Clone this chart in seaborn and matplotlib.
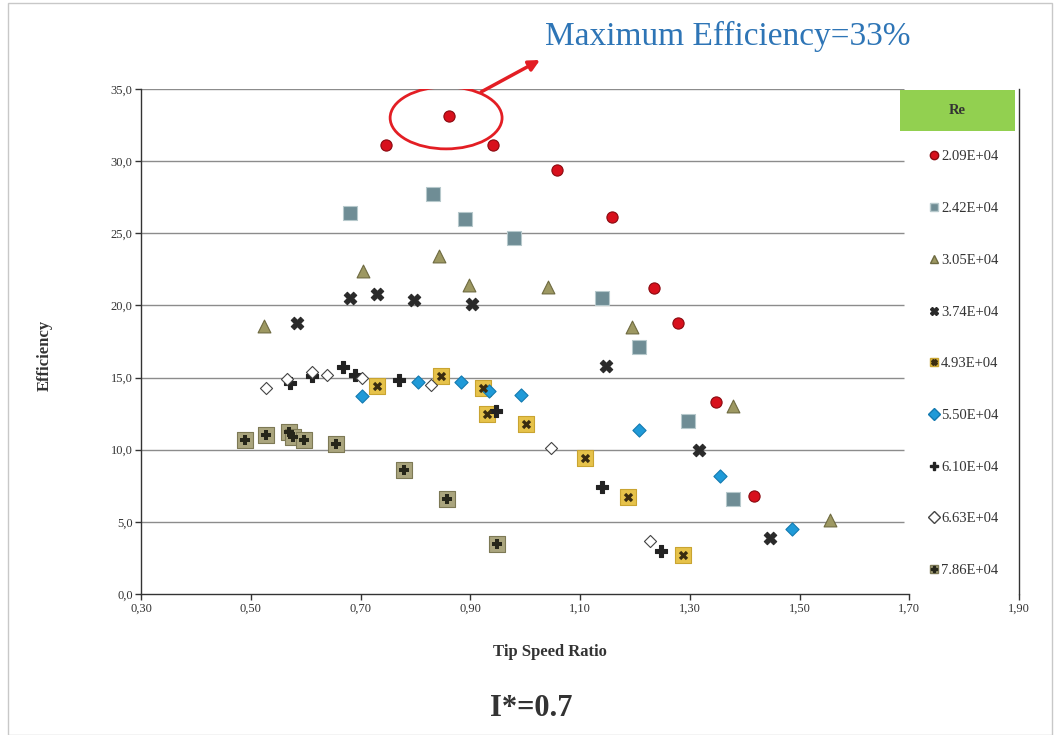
import matplotlib
matplotlib.use("Agg")
import matplotlib.pyplot as plt
import seaborn as sns
import pandas as pd
from matplotlib.lines import Line2D
from matplotlib.patches import Ellipse, Rectangle
from matplotlib.legend_handler import HandlerTuple

# tip speed ratio / efficiency per Reynolds number
x_209 = [0.746, 0.861, 0.941, 1.058, 1.158, 1.234, 1.278, 1.347, 1.417]
y_209 = [31.1, 33.1, 31.1, 29.4, 26.1, 21.2, 18.8, 13.3, 6.8]

x_242 = [0.681, 0.832, 0.890, 0.979, 1.140, 1.207, 1.296, 1.378]
y_242 = [26.4, 27.7, 26.0, 24.7, 20.5, 17.1, 12.0, 6.6]

x_305 = [0.524, 0.704, 0.843, 0.897, 1.041, 1.194, 1.378, 1.555]
y_305 = [18.6, 22.4, 23.4, 21.4, 21.3, 18.5, 13.0, 5.1]

x_374 = [0.584, 0.681, 0.730, 0.797, 0.903, 1.147, 1.316, 1.446]
y_374 = [18.8, 20.5, 20.8, 20.4, 20.1, 15.8, 10.0, 3.9]

x_493 = [0.730, 0.846, 0.923, 0.930, 1.001, 1.109, 1.187, 1.287]
y_493 = [14.4, 15.1, 14.3, 12.5, 11.8, 9.4, 6.7, 2.7]

x_550 = [0.703, 0.805, 0.883, 0.934, 0.992, 1.207, 1.355, 1.486]
y_550 = [13.7, 14.7, 14.7, 14.1, 13.8, 11.4, 8.2, 4.5]

x_610 = [0.571, 0.611, 0.668, 0.690, 0.770, 0.947, 1.140, 1.247]
y_610 = [14.6, 15.1, 15.7, 15.2, 14.8, 12.7, 7.4, 3.0]

x_663 = [0.528, 0.566, 0.611, 0.639, 0.703, 0.828, 1.047, 1.227]
y_663 = [14.3, 14.9, 15.4, 15.2, 15.0, 14.5, 10.1, 3.7]

x_786 = [0.489, 0.528, 0.570, 0.577, 0.597, 0.655, 0.779, 0.857, 0.948]
y_786 = [10.7, 11.0, 11.2, 10.9, 10.7, 10.4, 8.6, 6.6, 3.5]

re_labels = ["2.09E+04", "2.42E+04", "3.05E+04", "3.74E+04", "4.93E+04",
             "5.50E+04", "6.10E+04", "6.63E+04", "7.86E+04"]
x_ticks = [0.30, 0.50, 0.70, 0.90, 1.10, 1.30, 1.50, 1.70, 1.90]
y_ticks = [0, 5, 10, 15, 20, 25, 30, 35]

series = [(x_209, y_209), (x_242, y_242), (x_305, y_305), (x_374, y_374), (x_493, y_493),
          (x_550, y_550), (x_610, y_610), (x_663, y_663), (x_786, y_786)]

# marker styles: (outer marker, face, edge, size, inner marker, inner colour, inner size)
styles = [
    ("o", "#d8101c", "#8a0a10", 65, None, None, 0),
    ("s", "#6f8d95", "#b7c9cc", 95, None, None, 0),
    ("^", "#9d9862", "#6e6a40", 85, None, None, 0),
    ("X", "#2a2a2a", "#2a2a2a", 80, None, None, 0),
    ("s", "#e6c24a", "#c9a431", 120, "X", "#3a2c10", 45),
    ("D", "#1f9ad8", "#137ab0", 45, None, None, 0),
    ("P", "#222222", "#222222", 80, None, None, 0),
    ("D", "white", "#444444", 38, None, None, 0),
    ("s", "#aaa57e", "#7d7955", 120, "P", "#26261a", 55),
]

sns.set_theme(style="white")
plt.rcParams["font.family"] = ["Liberation Serif", "DejaVu Serif"]

fig = plt.figure(figsize=(10.61, 7.35), dpi=100)
ax = fig.add_axes([141 / 1061, 1 - 594 / 735, 878 / 1061, 505 / 735])

handles = []
for (xs, ys), (mk, fc, ec, sz, imk, ic, isz), lab in zip(series, styles, re_labels):
    df = pd.DataFrame({"tsr": xs, "eff": ys})
    sns.scatterplot(data=df, x="tsr", y="eff", marker=mk, s=sz, color=fc,
                    edgecolor=ec, linewidth=0.8, ax=ax, zorder=3)
    h = Line2D([], [], ls="", marker=mk, markersize=6, markerfacecolor=fc,
               markeredgecolor=ec)
    if imk:
        sns.scatterplot(data=df, x="tsr", y="eff", marker=imk, s=isz, color=ic,
                        edgecolor=ic, linewidth=0, ax=ax, zorder=4)
        h = (h, Line2D([], [], ls="", marker=imk, markersize=4, markerfacecolor=ic,
                       markeredgecolor=ic))
    handles.append(h)

ax.set_xlim(0.30, 1.90)
ax.set_ylim(0, 35)
ax.hlines(y_ticks[1:], 0.30, 1.69, color="#8c8c8c", lw=1, zorder=1)
ax.set_xticks(x_ticks)
ax.set_xticklabels([f"{v:.2f}".replace(".", ",") for v in x_ticks], fontsize=9)
ax.set_yticks(y_ticks)
ax.set_yticklabels([f"{v:.1f}".replace(".", ",") for v in y_ticks], fontsize=9)
ax.tick_params(axis="both", direction="out", length=4, width=1, color="#333333",
               labelcolor="#333333", pad=2, left=True, bottom=True)
ax.spines["top"].set_visible(False)
for side in ["left", "bottom", "right"]:
    ax.spines[side].set_color("#333333")
    ax.spines[side].set_linewidth(1)
ax.spines["bottom"].set_bounds(0.30, 1.70)
ax.set_xlabel("")
ax.set_ylabel("")

fig.text(45 / 1061, 1 - 355 / 735, "Efficiency", rotation=90, ha="center", va="center",
         fontsize=12, fontweight="bold", color="#333333")
fig.text(550 / 1061, 1 - 652 / 735, "Tip Speed Ratio", ha="center", va="center",
         fontsize=12, fontweight="bold", color="#333333")
fig.text(531 / 1061, 1 - 708 / 735, "I*=0.7", ha="center", va="center",
         fontsize=22, fontweight="bold", color="#333333")

# highlight of the maximum
ax.add_patch(Ellipse((0.856, 33.0), 0.204, 4.3, fill=False, edgecolor="#e31e24",
                     lw=2, zorder=5))
ax.annotate("", xy=(540 / 1061, 1 - 60 / 735), xycoords="figure fraction",
            xytext=(0.92, 34.8), textcoords="data",
            arrowprops=dict(arrowstyle="-|>", color="#e31e24", lw=2.5,
                            mutation_scale=16, shrinkA=0, shrinkB=0),
            annotation_clip=False)
fig.text(545 / 1061, 1 - 36 / 735, "Maximum Efficiency=33%", ha="left", va="center",
         fontsize=24, color="#2e75b6")

# legend panel
fig.patches.append(Rectangle((900 / 1061, 1 - 131 / 735), 115 / 1061, 41 / 735,
                             transform=fig.transFigure, facecolor="#92d050",
                             edgecolor="none", zorder=2))
fig.text(957 / 1061, 1 - 111 / 735, "Re", ha="center", va="center", fontsize=10.5,
         fontweight="bold", color="#333333")
leg = ax.legend(handles, re_labels, loc="upper left",
                bbox_to_anchor=(922 / 1061, 1 - 143 / 735),
                bbox_transform=fig.transFigure, frameon=False, fontsize=10.5,
                handlelength=0.7, handletextpad=0.1, labelspacing=2.64,
                borderpad=0, handler_map={tuple: HandlerTuple(ndivide=None, pad=-0.7)})
for t in leg.get_texts():
    t.set_color("#333333")

# slide frame
fig.patches.append(Rectangle((8 / 1061, 0), 1044 / 1061, 1 - 3 / 735,
                             transform=fig.transFigure, fill=False,
                             edgecolor="#c8c8c8", lw=1))

fig.savefig("out.png", dpi=100, facecolor="white")
